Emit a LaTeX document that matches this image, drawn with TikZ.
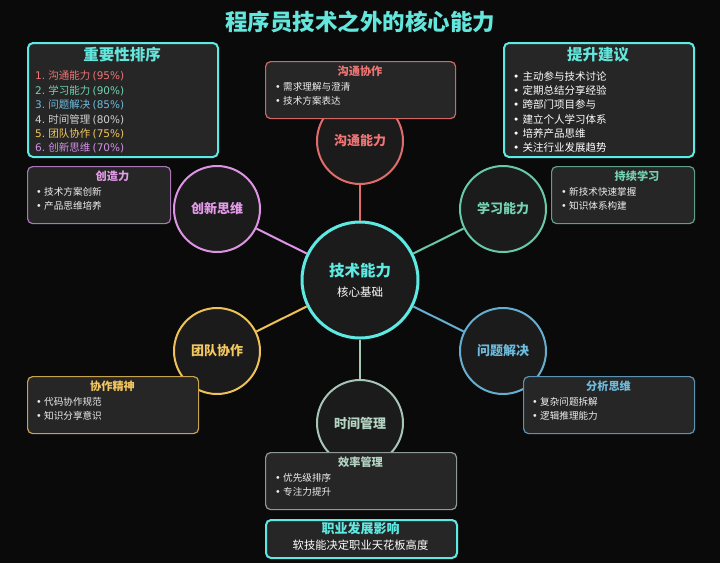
\documentclass[tikz,border=0pt]{standalone}
\usepackage{fontspec}
\setmainfont{Noto Sans CJK SC}
\newfontfamily\dvs{DejaVu Sans}
\newcommand\myfs[1]{\fontsize{#1pt}{#1pt}\selectfont}
\newcommand\lat[1]{{\dvs #1}}
\newcommand\bul[1]{\makebox[#1][l]{\dvs •}}
\definecolor{bg}{HTML}{0A0A0A}
\definecolor{circfill}{HTML}{1B1B1B}
\definecolor{cardfill}{HTML}{262626}
\definecolor{cyanc}{HTML}{5EEAE2}
\definecolor{titlec}{HTML}{63E6DC}
\definecolor{redc}{HTML}{E06C6C}
\definecolor{redt}{HTML}{F07575}
\definecolor{redb}{HTML}{D06666}
\definecolor{tealc}{HTML}{68C9A8}
\definecolor{tealt}{HTML}{74D3B2}
\definecolor{tealb}{HTML}{5E9E8C}
\definecolor{bluec}{HTML}{66AED0}
\definecolor{bluet}{HTML}{6EBBDD}
\definecolor{blueb}{HTML}{5A94B4}
\definecolor{timec}{HTML}{A6C6B6}
\definecolor{timet}{HTML}{B4D4C4}
\definecolor{timeb}{HTML}{8E9A94}
\definecolor{yelc}{HTML}{EEC258}
\definecolor{yelt}{HTML}{F4C860}
\definecolor{yelb}{HTML}{C9A24E}
\definecolor{vioc}{HTML}{DD94E4}
\definecolor{viot}{HTML}{E49CEA}
\definecolor{viob}{HTML}{A878B4}
\definecolor{grayt}{HTML}{D0D0D0}
\definecolor{vio6}{HTML}{D28FE6}
\definecolor{txt}{HTML}{EEEEEE}
\begin{document}
\begin{tikzpicture}[x=1pt,y=-1pt,
  circ/.style={circle, line width=2pt, fill=circfill, minimum size=86pt, inner sep=0pt, font=\bfseries\myfs{13}},
  card/.style={draw, rounded corners=5pt, fill=cardfill, line width=1.2pt, anchor=north west, inner sep=0pt},
  bigcard/.style={card, line width=2pt, draw=cyanc},
  lbl/.style={inner sep=0pt, anchor=west, font=\myfs{9.6}, text=txt},
  biglbl/.style={inner sep=0pt, anchor=west, font=\myfs{10.5}},
  ttl/.style={inner sep=0pt, font=\bfseries\myfs{11.2}},
  link/.style={line width=2pt}]
\fill[bg] (0,0) rectangle (720,563);
\useasboundingbox (0,0) rectangle (720,563);

% title
\node[inner sep=0pt, font=\bfseries\myfs{22.5}, text=titlec] (title) at (360,22) {程序员技术之外的核心能力};

% circles
\node[circ, minimum size=116pt, line width=3pt, draw=cyanc] (core) at (360,280) {};
\node[circ, draw=redc, text=redt] (comm) at (360,141) {沟通能力};
\node[circ, draw=tealc, text=tealt] (learn) at (503,209) {学习能力};
\node[circ, draw=bluec, text=bluet] (prob) at (503,351) {问题解决};
\node[circ, draw=timec, text=timet] (time) at (360,423) {时间管理};
\node[circ, draw=yelc, text=yelt] (team) at (217,351) {团队协作};
\node[circ, draw=vioc, text=viot] (innov) at (217,209) {创新思维};
\node[inner sep=0pt, font=\bfseries\myfs{15.5}, text=cyanc] (coret) at (360,271) {技术能力};
\node[inner sep=0pt, font=\myfs{11.5}, text=white] (cores) at (360,292) {核心基础};

% connectors
\draw[link, redc] (core) -- (comm);
\draw[link, tealc] (core) -- (learn);
\draw[link, bluec] (core) -- (prob);
\draw[link, timec] (core) -- (time);
\draw[link, yelc] (core) -- (team);
\draw[link, vioc] (core) -- (innov);

% ranking box
\node[bigcard, minimum width=190pt, minimum height=114pt] (rank) at (27,42) {};
\node[inner sep=0pt, font=\bfseries\myfs{15.5}, text=titlec] (rankt) at (122,55) {重要性排序};
\node[biglbl, text=redt] (r1) at (35,76) {\lat{1.} 沟通能力 \lat{(95\%)}};
\node[biglbl, text=tealt] (r2) at (35,90.5) {\lat{2.} 学习能力 \lat{(90\%)}};
\node[biglbl, text=bluet] (r3) at (35,105) {\lat{3.} 问题解决 \lat{(85\%)}};
\node[biglbl, text=grayt] (r4) at (35,119.5) {\lat{4.} 时间管理 \lat{(80\%)}};
\node[biglbl, text=yelt] (r5) at (35,134) {\lat{5.} 团队协作 \lat{(75\%)}};
\node[biglbl, text=vio6] (r6) at (35,148) {\lat{6.} 创新思维 \lat{(70\%)}};

% tips box
\node[bigcard, minimum width=190pt, minimum height=114pt] (tips) at (503,42) {};
\node[inner sep=0pt, font=\bfseries\myfs{15.5}, text=titlec] (tipst) at (598,55) {提升建议};
\node[biglbl, text=white] (t1) at (513,76) {\bul{9.5pt}主动参与技术讨论};
\node[biglbl, text=white] (t2) at (513,90.5) {\bul{9.5pt}定期总结分享经验};
\node[biglbl, text=white] (t3) at (513,105) {\bul{9.5pt}跨部门项目参与};
\node[biglbl, text=white] (t4) at (513,119.5) {\bul{9.5pt}建立个人学习体系};
\node[biglbl, text=white] (t5) at (513,134) {\bul{9.5pt}培养产品思维};
\node[biglbl, text=white] (t6) at (513,148) {\bul{9.5pt}关注行业发展趋势};

% communication card
\node[card, draw=redb, minimum width=190pt, minimum height=57pt] (commc) at (265,61) {};
\node[ttl, text=redt] (commct) at (360,71.5) {沟通协作};
\node[lbl] (comm1) at (275,86.5) {\bul{8pt}需求理解与澄清};
\node[lbl] (comm2) at (275,100.5) {\bul{8pt}技术方案表达};

% learning card
\node[card, draw=tealb, minimum width=143pt, minimum height=57pt] (learnc) at (551,166) {};
\node[ttl, text=tealt] (learnct) at (637,176.5) {持续学习};
\node[lbl] (learn1) at (561,191.5) {\bul{8pt}新技术快速掌握};
\node[lbl] (learn2) at (561,205.5) {\bul{8pt}知识体系构建};

% innovation card
\node[card, draw=viob, minimum width=143pt, minimum height=57pt] (innovc) at (27,166) {};
\node[ttl, text=viot] (innovct) at (112.5,176.5) {创造力};
\node[lbl] (innov1) at (36,191.5) {\bul{8pt}技术方案创新};
\node[lbl] (innov2) at (36,205.5) {\bul{8pt}产品思维培养};

% team card
\node[card, draw=yelb, minimum width=171pt, minimum height=57pt] (teamc) at (27,376) {};
\node[ttl, text=yelt] (teamct) at (112.5,386.5) {协作精神};
\node[lbl] (team1) at (36,401.5) {\bul{8pt}代码协作规范};
\node[lbl] (team2) at (36,415.5) {\bul{8pt}知识分享意识};

% problem card
\node[card, draw=blueb, minimum width=171pt, minimum height=57pt] (probc) at (523,376) {};
\node[ttl, text=bluet] (probct) at (608.5,386.5) {分析思维};
\node[lbl] (prob1) at (532,401.5) {\bul{8pt}复杂问题拆解};
\node[lbl] (prob2) at (532,415.5) {\bul{8pt}逻辑推理能力};

% time card
\node[card, draw=timeb, minimum width=191pt, minimum height=57pt] (timec) at (265,452) {};
\node[ttl, text=timet] (timect) at (360.5,462.5) {效率管理};
\node[lbl] (time1) at (275,477.5) {\bul{8pt}优先级排序};
\node[lbl] (time2) at (275,491.5) {\bul{8pt}专注力提升};

% bottom card
\node[bigcard, minimum width=191pt, minimum height=38pt] (career) at (265,519) {};
\node[inner sep=0pt, font=\bfseries\myfs{13}, text=cyanc] (careert) at (360.5,528.5) {职业发展影响};
\node[inner sep=0pt, font=\myfs{11.3}, text=white] (careers) at (360.5,545.5) {软技能决定职业天花板高度};
\end{tikzpicture}
\end{document}
